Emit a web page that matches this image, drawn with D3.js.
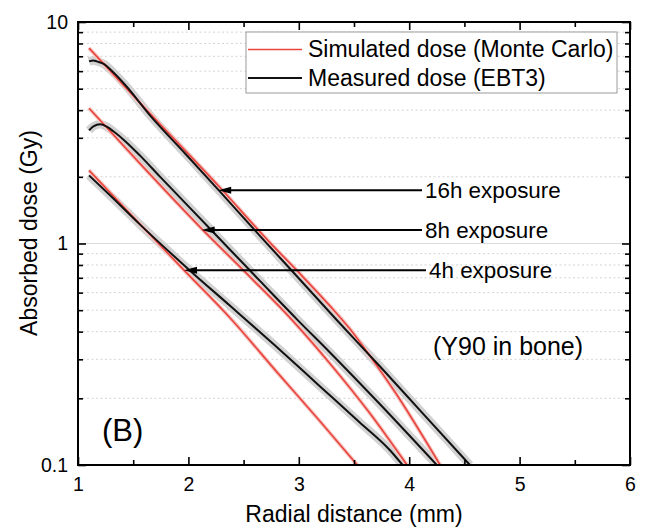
<!DOCTYPE html>
<html>
<head>
<meta charset="utf-8">
<script src="https://cdn.jsdelivr.net/npm/d3@7"></script>
<style>
  body { margin: 0; background: #fff; }
  svg { display: block; }
</style>
</head>
<body>
<div id="chart"></div>
<script>
// Radial distance (mm) and absorbed dose (Gy)
const sim16X = [1.10, 1.65, 2.29, 2.73, 3.01, 3.28, 3.46, 3.64, 3.87, 4.28];
const sim16Y = [7.62, 3.87, 1.78, 1.02, 0.731, 0.524, 0.413, 0.313, 0.214, 0.100];
const meas16X = [1.10, 1.14, 1.17, 1.24, 1.31, 1.43, 1.65, 1.97, 2.27, 2.65, 2.96, 3.35, 3.74, 4.10, 4.55];
const meas16Y = [6.64, 6.71, 6.64, 6.44, 5.99, 5.18, 3.80, 2.55, 1.75, 1.08, 0.732, 0.448, 0.277, 0.176, 0.100];

const sim8X = [1.10, 1.56, 2.11, 2.56, 2.94, 3.28, 3.64, 3.98];
const sim8Y = [4.08, 2.30, 1.18, 0.705, 0.451, 0.288, 0.172, 0.100];
const meas8X = [1.10, 1.14, 1.20, 1.26, 1.32, 1.43, 1.56, 1.74, 2.20, 2.65, 2.99, 3.28, 3.74, 4.25];
const meas8Y = [3.24, 3.38, 3.45, 3.37, 3.21, 2.89, 2.50, 2.01, 1.16, 0.676, 0.451, 0.323, 0.187, 0.100];

const sim4X = [1.10, 1.53, 1.96, 2.38, 2.81, 3.19, 3.53];
const sim4Y = [2.14, 1.27, 0.758, 0.460, 0.260, 0.158, 0.100];
const meas4X = [1.10, 1.29, 1.56, 2.01, 2.38, 2.78, 3.19, 3.55, 3.83, 3.94];
const meas4Y = [2.03, 1.65, 1.22, 0.758, 0.522, 0.348, 0.227, 0.156, 0.116, 0.100];

const xTicks = [1, 2, 3, 4, 5, 6];
const xMinorTicks = [1.5, 2.5, 3.5, 4.5, 5.5];
const yTicks = [0.1, 1, 10];
const yMinorTicks = [0.2, 0.3, 0.4, 0.5, 0.6, 0.7, 0.8, 0.9, 2, 3, 4, 5, 6, 7, 8, 9];

const legendLabels = ['Simulated dose (Monte Carlo)', 'Measured dose (EBT3)'];
const arrowLabels = ['16h exposure', '8h exposure', '4h exposure'];
const arrowTipX = [2.27, 2.12, 1.96];
const arrowTipY = [1.74, 1.15, 0.758];

const width = 649, height = 529;
const margin = { top: 22, right: 19, bottom: 64, left: 78 };
const FONT = '"Liberation Sans", Arial, Helvetica, sans-serif';
const RED = '#e8463e';

const svg = d3.select('#chart').append('svg')
  .attr('width', width)
  .attr('height', height)
  .style('font-family', FONT);

const x = d3.scaleLinear().domain([1, 6]).range([margin.left, width - margin.right]);
const y = d3.scaleLog().domain([0.1, 10]).range([height - margin.bottom, margin.top]);

const x0 = x.range()[0], x1 = x.range()[1];
const yb = y.range()[0], yt = y.range()[1];

svg.append('defs').append('clipPath').attr('id', 'plot-clip')
  .append('rect')
  .attr('x', x0).attr('y', yt)
  .attr('width', x1 - x0).attr('height', yb - yt);

// Grid: dotted minor lines, solid light line at 1 Gy
svg.append('g')
  .selectAll('line')
  .data(yMinorTicks)
  .join('line')
  .attr('x1', x0).attr('x2', x1)
  .attr('y1', d => y(d)).attr('y2', d => y(d))
  .attr('stroke', '#d4d4d4')
  .attr('stroke-width', 1)
  .attr('stroke-dasharray', '2,2.5');

svg.append('line')
  .attr('x1', x0).attr('x2', x1)
  .attr('y1', y(1)).attr('y2', y(1))
  .attr('stroke', '#dcdcdc')
  .attr('stroke-width', 1.2);

const line = d3.line()
  .x(d => x(d[0]))
  .y(d => y(d[1]))
  .curve(d3.curveMonotoneX);

const zipXY = (xs, ys) => xs.map((v, i) => [v, ys[i]]);

const measured = [zipXY(meas16X, meas16Y), zipXY(meas8X, meas8Y), zipXY(meas4X, meas4Y)];
const simulated = [zipXY(sim16X, sim16Y), zipXY(sim8X, sim8Y), zipXY(sim4X, sim4Y)];

const plot = svg.append('g').attr('clip-path', 'url(#plot-clip)');

// Uncertainty band around the measured curves
plot.selectAll('path.band')
  .data(measured)
  .join('path')
  .attr('class', 'band')
  .attr('d', line)
  .attr('fill', 'none')
  .attr('stroke', '#d2d2d2')
  .attr('stroke-width', 8.5);

// Simulated: faint halo then the red line
plot.selectAll('path.halo')
  .data(simulated)
  .join('path')
  .attr('class', 'halo')
  .attr('d', line)
  .attr('fill', 'none')
  .attr('stroke', '#f6c9c6')
  .attr('stroke-width', 4);

plot.selectAll('path.sim')
  .data(simulated)
  .join('path')
  .attr('class', 'sim')
  .attr('d', line)
  .attr('fill', 'none')
  .attr('stroke', RED)
  .attr('stroke-width', 1.7);

plot.selectAll('path.meas')
  .data(measured)
  .join('path')
  .attr('class', 'meas')
  .attr('d', line)
  .attr('fill', 'none')
  .attr('stroke', '#111')
  .attr('stroke-width', 2);

// Axes with inward ticks on all four sides
function styleAxis(g) {
  g.select('.domain').remove();
  g.selectAll('.tick line').attr('stroke', '#000').attr('stroke-width', 1.6);
  g.selectAll('.tick text')
    .attr('fill', '#000')
    .style('font-family', FONT)
    .style('font-size', '19.5px');
}

svg.append('g')
  .attr('transform', `translate(0,${yb})`)
  .call(d3.axisBottom(x).tickValues(xTicks).tickSizeInner(-8).tickSizeOuter(0).tickPadding(12).tickFormat(d3.format('d')))
  .call(styleAxis);
svg.append('g')
  .attr('transform', `translate(0,${yb})`)
  .call(d3.axisBottom(x).tickValues(xMinorTicks).tickSizeInner(-5).tickSizeOuter(0).tickFormat(''))
  .call(styleAxis);
svg.append('g')
  .attr('transform', `translate(0,${yt})`)
  .call(d3.axisTop(x).tickValues(xTicks).tickSizeInner(-8).tickSizeOuter(0).tickFormat(''))
  .call(styleAxis);
svg.append('g')
  .attr('transform', `translate(0,${yt})`)
  .call(d3.axisTop(x).tickValues(xMinorTicks).tickSizeInner(-5).tickSizeOuter(0).tickFormat(''))
  .call(styleAxis);

svg.append('g')
  .attr('transform', `translate(${x0},0)`)
  .call(d3.axisLeft(y).tickValues(yTicks).tickSizeInner(-8).tickSizeOuter(0).tickPadding(10).tickFormat(d => d3.format('~g')(d)))
  .call(styleAxis);
svg.append('g')
  .attr('transform', `translate(${x0},0)`)
  .call(d3.axisLeft(y).tickValues(yMinorTicks).tickSizeInner(-5).tickSizeOuter(0).tickFormat(''))
  .call(styleAxis);
svg.append('g')
  .attr('transform', `translate(${x1},0)`)
  .call(d3.axisRight(y).tickValues(yTicks).tickSizeInner(-8).tickSizeOuter(0).tickFormat(''))
  .call(styleAxis);
svg.append('g')
  .attr('transform', `translate(${x1},0)`)
  .call(d3.axisRight(y).tickValues(yMinorTicks).tickSizeInner(-5).tickSizeOuter(0).tickFormat(''))
  .call(styleAxis);

// Frame
svg.append('rect')
  .attr('x', x0).attr('y', yt)
  .attr('width', x1 - x0).attr('height', yb - yt)
  .attr('fill', 'none')
  .attr('stroke', '#000')
  .attr('stroke-width', 2);

// Axis titles
svg.append('text')
  .attr('x', (x0 + x1) / 2)
  .attr('y', 522)
  .attr('text-anchor', 'middle')
  .attr('font-size', '23px')
  .attr('fill', '#000')
  .text('Radial distance (mm)');

svg.append('text')
  .attr('transform', `translate(37,233) rotate(-90)`)
  .attr('text-anchor', 'middle')
  .attr('font-size', '23px')
  .attr('fill', '#000')
  .text('Absorbed dose (Gy)');

// Arrow annotations
const arrows = svg.append('g');
arrowLabels.forEach((label, i) => {
  const tx = x(arrowTipX[i]);
  const ty = y(arrowTipY[i]);
  const textX = i === 2 ? 429 : 425;
  arrows.append('line')
    .attr('x1', tx + 10).attr('x2', textX - 3)
    .attr('y1', ty).attr('y2', ty)
    .attr('stroke', '#000')
    .attr('stroke-width', 2);
  arrows.append('path')
    .attr('d', `M${tx},${ty} L${tx + 13},${ty - 3.5} L${tx + 13},${ty + 3.5} Z`)
    .attr('fill', '#000');
  arrows.append('text')
    .attr('x', textX)
    .attr('y', ty + 7.5)
    .attr('font-size', '22.4px')
    .attr('fill', '#000')
    .text(label);
});

svg.append('text')
  .attr('x', 433)
  .attr('y', 355)
  .attr('font-size', '25px')
  .attr('fill', '#000')
  .text('(Y90 in bone)');

svg.append('text')
  .attr('x', 102)
  .attr('y', 441)
  .attr('font-size', '31px')
  .attr('fill', '#000')
  .text('(B)');

// Legend
const legend = svg.append('g');
legend.append('rect')
  .attr('x', 246).attr('y', 32)
  .attr('width', 371).attr('height', 61)
  .attr('fill', '#fff')
  .attr('stroke', '#9a9a9a')
  .attr('stroke-width', 1);

const legendColors = [RED, '#111'];
legendLabels.forEach((label, i) => {
  const ly = 49.5 + i * 28.5;
  legend.append('line')
    .attr('x1', 248).attr('x2', 302)
    .attr('y1', ly).attr('y2', ly)
    .attr('stroke', legendColors[i])
    .attr('stroke-width', i === 0 ? 1.7 : 2);
  legend.append('text')
    .attr('x', 308)
    .attr('y', ly + 7.5)
    .attr('font-size', '23px')
    .attr('fill', '#000')
    .text(label);
});
</script>
</body>
</html>
